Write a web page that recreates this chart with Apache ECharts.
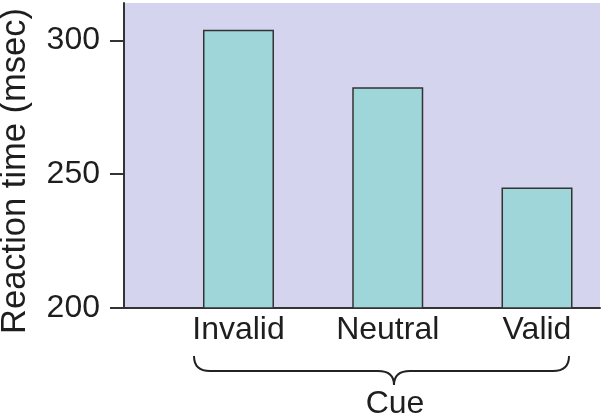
<!DOCTYPE html>
<html>
<head>
<meta charset="utf-8">
<script src="https://cdn.jsdelivr.net/npm/echarts@6/dist/echarts.min.js"></script>
<style>html,body{margin:0;padding:0;background:#fff;}#c{width:602px;height:418px;}</style>
</head>
<body>
<div id="c"></div>
<script>
var categories = ['Invalid', 'Neutral', 'Valid'];
var reactionTimes = [304, 282.5, 245];
var yTicks = [200, 250, 300];
var categoryPositions = [1, 2, 3];

var chart = echarts.init(document.getElementById('c'), null, {renderer: 'canvas'});
var font = 'Liberation Sans, Arial, Helvetica, sans-serif';
var ink = '#1e1e1e';
var braceStyle = {fill: 'none', stroke: '#222', lineWidth: 2};
function curve(x1, y1, cx, cy, x2, y2) {
  return {type: 'bezierCurve', shape: {x1: x1, y1: y1, cpx1: cx, cpy1: cy, x2: x2, y2: y2}, style: braceStyle};
}
function seg(x1, y1, x2, y2) {
  return {type: 'line', shape: {x1: x1, y1: y1, x2: x2, y2: y2}, style: braceStyle};
}
chart.setOption({
  animation: false,
  backgroundColor: '#ffffff',
  grid: {left: 124, right: 2, top: 3, bottom: 110, show: true, backgroundColor: '#d4d4ee', borderWidth: 0,
         containLabel: false, outerBoundsMode: 'none'},
  xAxis: {
    type: 'value', min: 0.233, max: 3.422,
    name: 'Cue', nameLocation: 'middle', nameGap: 80,
    nameTextStyle: {fontFamily: font, fontSize: 32, color: ink, padding: [0, 0, 0, 66]},
    axisLine: {show: true, lineStyle: {color: '#333', width: 2}},
    axisTick: {show: false},
    splitLine: {show: false},
    axisLabel: {
      customValues: categoryPositions, margin: 6,
      fontFamily: font, fontSize: 32, color: ink,
      formatter: function (v) { return categories[Math.round(v) - 1] || ''; }
    }
  },
  yAxis: {
    type: 'value', min: 200, max: 314,
    name: 'Reaction time (msec)', nameLocation: 'middle', nameGap: 91,
    nameTextStyle: {fontFamily: font, fontSize: 34.5, color: ink, padding: [0, 31, 0, 0]},
    axisLine: {show: true, lineStyle: {color: '#333', width: 2}},
    axisTick: {show: true, customValues: yTicks, length: 14, lineStyle: {color: '#333', width: 2}},
    splitLine: {show: false},
    axisLabel: {customValues: yTicks, margin: 24, fontFamily: font, fontSize: 32, color: ink}
  },
  series: [{
    type: 'bar',
    barWidth: 71,
    data: categoryPositions.map(function (p, i) { return [p, reactionTimes[i]]; }),
    itemStyle: {color: '#9ed6da', borderColor: '#333', borderWidth: 1.5}
  }],
  graphic: [
    curve(194, 356, 194, 371, 210, 371),
    seg(210, 371, 378, 371),
    curve(378, 371, 394, 371, 394, 385),
    curve(394, 385, 394, 371, 410, 371),
    seg(410, 371, 553, 371),
    curve(553, 371, 569, 371, 569, 356)
  ]
});
</script>
</body>
</html>
